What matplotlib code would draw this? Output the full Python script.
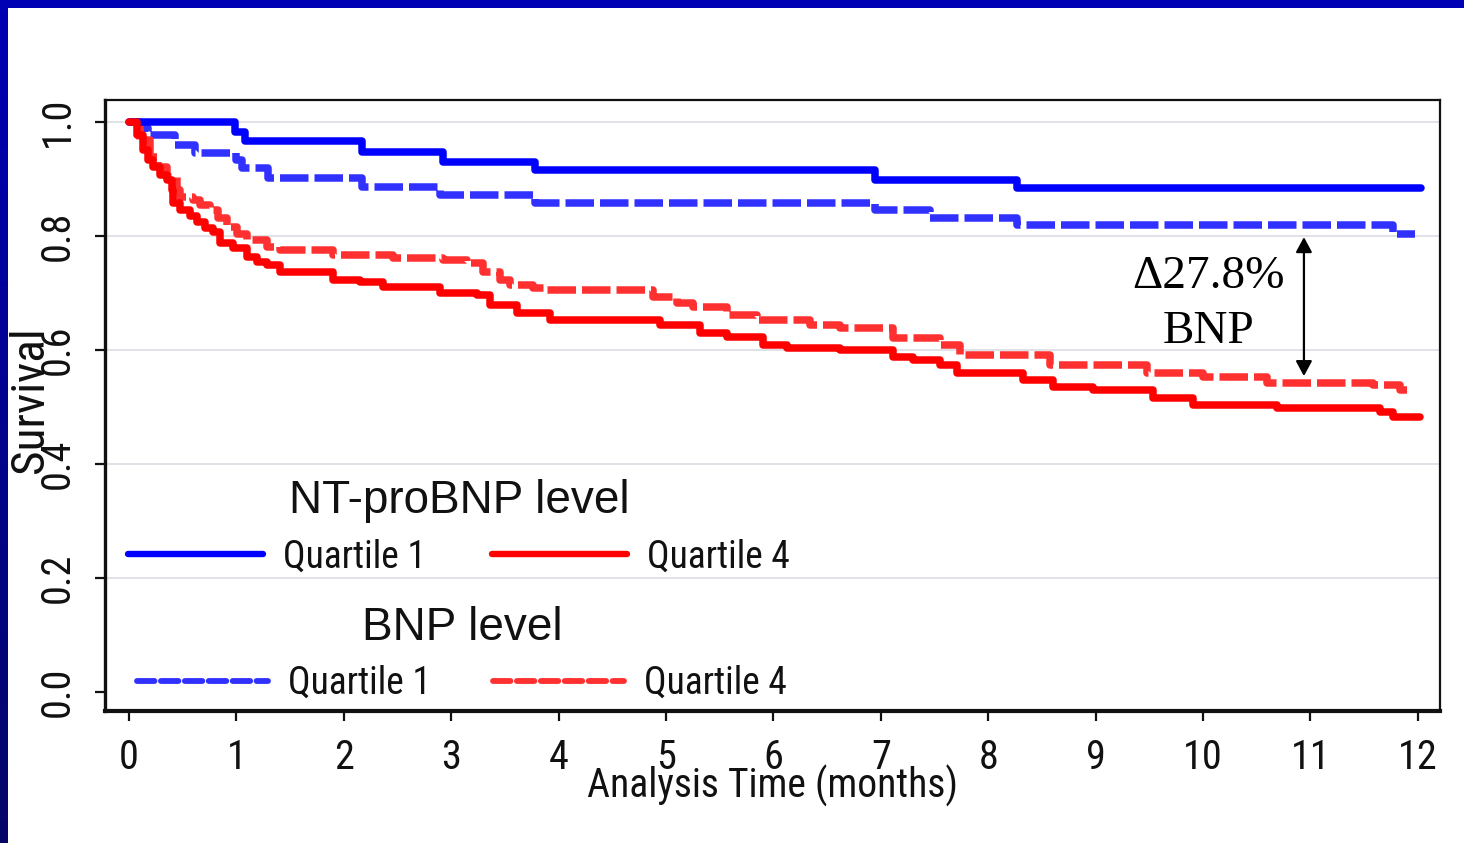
import matplotlib
matplotlib.use("Agg")
import os
import numpy as np
import matplotlib.pyplot as plt
from matplotlib import font_manager
from matplotlib.lines import Line2D
from matplotlib.patches import Rectangle

# ---- Kaplan-Meier step data (time in months, survival fraction) ----
nt_q1_time = [0, 0.99, 1.08, 2.17, 2.92, 3.78, 6.95, 8.27, 12.03]
nt_q1_surv = [1.0, 0.982, 0.967, 0.947, 0.930, 0.916, 0.898, 0.884, 0.884]

nt_q4_time = [0, 0.074, 0.13, 0.177, 0.223, 0.289, 0.354, 0.40, 0.41, 0.475,
              0.568, 0.633, 0.708, 0.782, 0.847, 0.968, 1.099, 1.192, 1.285,
              1.406, 1.899, 2.151, 2.365, 2.896, 3.24, 3.361, 3.613, 3.92,
              4.944, 5.317, 5.568, 5.903, 6.127, 6.62, 7.114, 7.30, 7.551,
              7.709, 8.324, 8.603, 8.976, 9.534, 9.907, 10.689, 11.648,
              11.769, 12.02]
nt_q4_surv = [1.0, 0.977, 0.951, 0.933, 0.921, 0.907, 0.898, 0.881, 0.858,
              0.846, 0.835, 0.825, 0.814, 0.807, 0.788, 0.779, 0.763, 0.754,
              0.749, 0.737, 0.723, 0.719, 0.711, 0.700, 0.696, 0.679, 0.665,
              0.653, 0.644, 0.630, 0.623, 0.609, 0.604, 0.600, 0.588, 0.582,
              0.574, 0.560, 0.547, 0.535, 0.530, 0.516, 0.504, 0.498, 0.491,
              0.482, 0.482]

bnp_q1_time = [0, 0.08, 0.18, 0.43, 0.61, 1.0, 1.05, 1.29, 2.17, 2.9, 3.78,
               6.95, 7.46, 8.27, 11.77, 11.97]
bnp_q1_surv = [1.0, 0.99, 0.977, 0.960, 0.946, 0.933, 0.919, 0.902, 0.886,
               0.872, 0.858, 0.846, 0.832, 0.820, 0.804, 0.804]

bnp_q4_time = [0, 0.102, 0.196, 0.27, 0.354, 0.447, 0.475, 0.596, 0.661,
               0.754, 0.829, 0.912, 1.006, 1.099, 1.285, 1.406, 1.899, 2.458,
               2.924, 3.147, 3.296, 3.454, 3.547, 3.762, 3.873, 4.879, 5.102,
               5.251, 5.568, 5.847, 6.341, 6.62, 7.114, 7.551, 7.737, 8.575,
               9.479, 10.0, 10.596, 11.583, 11.834, 11.9]
bnp_q4_surv = [1.0, 0.968, 0.939, 0.921, 0.904, 0.881, 0.868, 0.863, 0.854,
               0.846, 0.832, 0.816, 0.804, 0.793, 0.781, 0.775, 0.767, 0.761,
               0.758, 0.753, 0.737, 0.723, 0.714, 0.709, 0.705, 0.693, 0.682,
               0.675, 0.661, 0.653, 0.644, 0.639, 0.621, 0.609, 0.591, 0.574,
               0.560, 0.553, 0.542, 0.539, 0.530, 0.530]

x_ticks = list(range(0, 13))
y_ticks = [0.0, 0.2, 0.4, 0.6, 0.8, 1.0]
grid_levels = [0.2, 0.4, 0.6, 0.8, 1.0]

delta_time = 10.94          # month at which the BNP gap is marked
delta_bnp_pct = 27.8        # gap between BNP quartile 1 and 4 (%)


def narrow_font():
    """Return (FontProperties kwargs, scale) for a condensed sans face."""
    probes = [dict(family="Liberation Sans Narrow"),
              dict(family="Arial Narrow"),
              dict(family="Noto Sans", stretch="condensed"),
              dict(family="Noto Sans Condensed"),
              dict(family="Roboto Condensed"),
              dict(family="Open Sans", stretch="condensed"),
              dict(family="Open Sans Condensed"),
              dict(family="DejaVu Sans", stretch="condensed"),
              dict(family="DejaVu Sans Condensed")]
    for kw in probes:
        try:
            path = font_manager.findfont(font_manager.FontProperties(**kw),
                                         fallback_to_default=False)
        except Exception:
            continue
        base = os.path.basename(path).lower()
        if "narrow" in base or "condensed" in base:
            return kw, 1.0
    return dict(family="Liberation Sans"), 0.86


NARROW, NSCALE = narrow_font()
SANS = "Liberation Sans"
SERIF = "Liberation Serif"

TXT = "#111111"
BLUE = "#0000ff"
BLUE_D = "#3030ff"
RED = "#ff0000"
RED_D = "#ff3030"

W, H = 1464, 843
fig = plt.figure(figsize=(W / 100, H / 100), dpi=100)
fig.patch.set_facecolor("white")

# slide frame: blue band on top, shaded band on the left
fig.patches.append(Rectangle((0, 1 - 8 / H), 1, 8 / H, transform=fig.transFigure,
                             facecolor="#0000b4", edgecolor="none", zorder=0))
band = fig.add_axes([0, 0, 8 / W, 1 - 8 / H])
grad = np.linspace(0, 1, 256)[:, None, None]
top_c = np.array([0x00, 0x00, 0xb4])[None, None, :] / 255
bot_c = np.array([0x06, 0x06, 0x68])[None, None, :] / 255
band.imshow(top_c * (1 - grad) + bot_c * grad, aspect="auto")
band.set_axis_off()

ax = fig.add_axes([105 / W, 1 - 711 / H, (1440 - 105) / W, (711 - 100) / H])
ax.set_xlim(-0.2235, 12.207)
ax.set_ylim(-0.0333, 1.0386)

for lvl in grid_levels:
    ax.axhline(lvl, color="#dcdce4", lw=1.2, zorder=0)

lw = 5.4
ax.step(nt_q1_time, nt_q1_surv, where="post", color=BLUE, lw=lw,
        solid_capstyle="round", zorder=3)
ax.step(nt_q4_time, nt_q4_surv, where="post", color=RED, lw=lw,
        solid_capstyle="round", zorder=3)
ax.step(bnp_q1_time, bnp_q1_surv, where="post", color=BLUE_D, lw=lw,
        dashes=(3.8, 0.8), dash_capstyle="butt", zorder=2)
ax.step(bnp_q4_time, bnp_q4_surv, where="post", color=RED_D, lw=lw,
        dashes=(3.8, 0.8), dash_capstyle="butt", zorder=2)

# frame
for side, w in (("left", 2.4), ("bottom", 3.0), ("top", 1.6), ("right", 1.6)):
    ax.spines[side].set_linewidth(w)
    ax.spines[side].set_color("#111111")

tick_fs = 29 * NSCALE
ax.set_xticks(x_ticks)
ax.set_yticks(y_ticks)
ax.set_xticklabels([str(v) for v in x_ticks])
ax.set_yticklabels([f"{v:.1f}" for v in y_ticks])
ax.tick_params(axis="both", direction="out", length=7.5, width=1.6,
               color="#111111", labelcolor=TXT, labelsize=tick_fs)
ax.tick_params(axis="x", pad=12)
ax.tick_params(axis="y", pad=13, labelrotation=90)
for lab in ax.get_xticklabels() + ax.get_yticklabels():
    lab.set_fontproperties(font_manager.FontProperties(size=tick_fs, **NARROW))
for lab in ax.get_yticklabels():
    lab.set_va("center")

ax.set_xlabel("Analysis Time (months)", color=TXT,
              fontproperties=font_manager.FontProperties(size=28.5 * NSCALE, **NARROW))
ax.xaxis.set_label_coords(0.5, -0.123)
ax.xaxis.label.set_va("center")
ax.set_ylabel("Survival", color=TXT,
              fontproperties=font_manager.FontProperties(size=34 * NSCALE, **NARROW))
ax.yaxis.set_label_coords(-0.0562, 0.509)
ax.yaxis.label.set_va("center")

# gap annotation between the BNP quartiles
i1 = np.searchsorted(bnp_q1_time, delta_time, side="right") - 1
i4 = np.searchsorted(bnp_q4_time, delta_time, side="right") - 1
top_val = bnp_q1_surv[i1]
bot_val = bnp_q4_surv[i4]
ax.annotate("", xy=(delta_time, top_val), xytext=(delta_time, bot_val),
            arrowprops=dict(arrowstyle="<|-|>,head_length=0.65,head_width=0.35",
                            mutation_scale=14, color="black", lw=1.6,
                            shrinkA=5, shrinkB=9), zorder=5)
ax.text(10.05, 0.728, f"\u0394{delta_bnp_pct:.1f}%", family=SERIF,
        fontsize=34, ha="center", va="center", color="black")
ax.text(10.05, 0.632, "BNP", family=SERIF, fontsize=34, ha="center",
        va="center", color="black")

# legends
nt_handles = [Line2D([], [], color=BLUE, lw=4.6, solid_capstyle="round"),
              Line2D([], [], color=RED, lw=4.6, solid_capstyle="round")]
bnp_handles = [Line2D([], [], color=BLUE_D, lw=4.2, dashes=(3.0, 1.1),
                      dash_capstyle="round"),
               Line2D([], [], color=RED_D, lw=4.2, dashes=(3.0, 1.1),
                      dash_capstyle="round")]

leg_fs = 27 * NSCALE
em = leg_fs / 0.72          # font size in pixels
leg_kw = dict(ncol=2, frameon=False, loc="upper left", borderpad=0,
              borderaxespad=0, handletextpad=20 / em,
              labelspacing=0.4,
              prop=font_manager.FontProperties(size=leg_fs, **NARROW),
              title_fontproperties=dict(family=SANS, size=33))
leg1 = ax.legend(nt_handles, ["Quartile 1", "Quartile 4"],
                 title="NT-proBNP level", handlelength=135 / em,
                 columnspacing=66 / em,
                 bbox_to_anchor=(0.0172, 0.379), **leg_kw)
for t in leg1.get_texts():
    t.set_color(TXT)
leg1.get_title().set_color(TXT)
ax.add_artist(leg1)
leg2 = ax.legend(bnp_handles, ["Quartile 1", "Quartile 4"],
                 title="BNP level", handlelength=131 / em,
                 columnspacing=62 / em,
                 bbox_to_anchor=(0.024, 0.172), **leg_kw)
for t in leg2.get_texts():
    t.set_color(TXT)
leg2.get_title().set_color(TXT)

fig.savefig("out.png", dpi=100, facecolor="white")
